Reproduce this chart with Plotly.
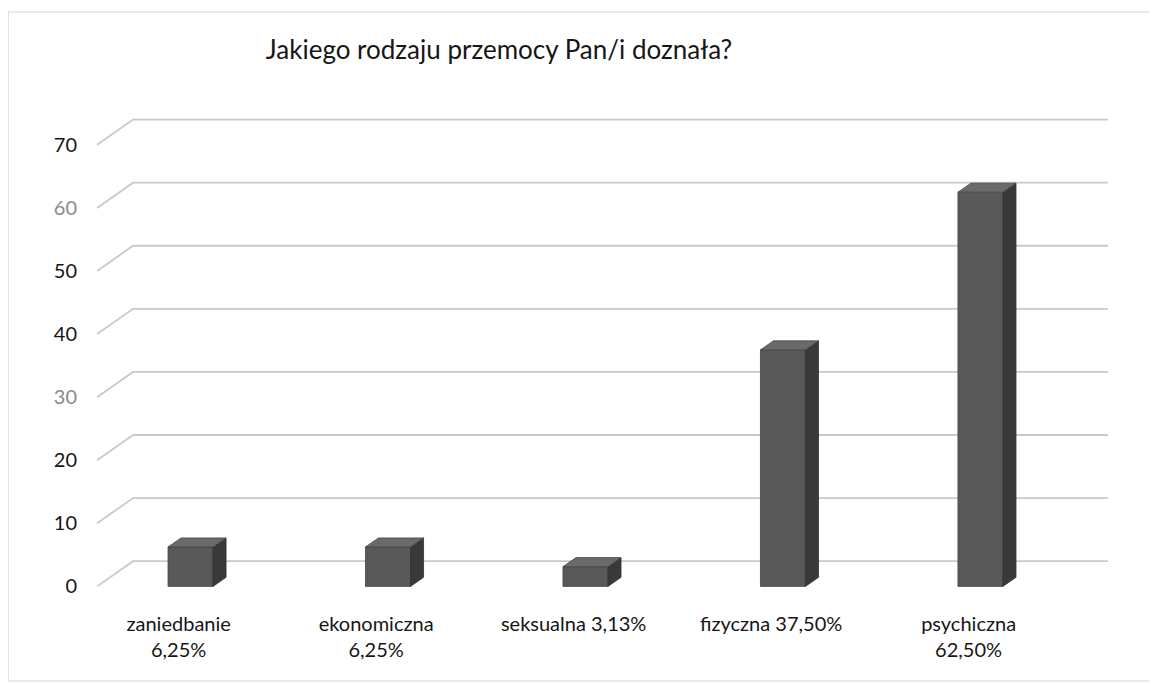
import plotly.graph_objects as go

# ---- data ----
categories = ["zaniedbanie<br>6,25%", "ekonomiczna<br>6,25%", "seksualna 3,13%",
              "fizyczna 37,50%", "psychiczna<br>62,50%"]
values = [6.25, 6.25, 3.13, 37.5, 62.5]
tick_vals = [0, 10, 20, 30, 40, 50, 60, 70]
faded_ticks = [30, 60]   # these labels appear lighter in the reference
title_text = "Jakiego rodzaju przemocy Pan/i doznała?"

# ---- style / geometry constants ----
FONT = "Lato, 'Open Sans', sans-serif"
BAR_W = 0.228          # front face width (category units)
BAR_SHIFT = 0.06       # perspective shift of bars vs labels
DEPTH_X = 0.066        # 3D depth in x (category units)
DEPTH_Y = 1.43         # 3D depth in y (value units)
WALL_DY = 4.0          # back wall offset (value units)
X_FRONT_LEFT = -0.413
X_BACK_LEFT = -0.231
X_RIGHT = 4.705
XR = [-0.449, 4.716]
YR = [-2, 76]
FRONT = "#595959"
SIDE = "#393939"
TOP = "#6a6a6a"
GRID = "#c9c9c9"
TXT = "#161616"
FADED = "#8a8a8a"

xpos = list(range(len(categories)))

fig = go.Figure()

# gridlines with side-wall diagonals (base axes, drawn beneath bars)
gx, gy = [], []
for v in tick_vals:
    gx += [X_FRONT_LEFT, X_BACK_LEFT, X_RIGHT, None]
    gy += [v, v + WALL_DY, v + WALL_DY, None]
fig.add_trace(go.Scatter(x=gx, y=gy, mode="lines",
                         line=dict(color=GRID, width=1.8),
                         hoverinfo="skip", showlegend=False))

# front faces (overlay axes, drawn above gridlines)
fig.add_trace(go.Bar(x=xpos, y=values, width=BAR_W,
                     offset=-BAR_W / 2 + BAR_SHIFT,
                     xaxis="x2", yaxis="y2",
                     marker=dict(color=FRONT, line=dict(color="#444444", width=0.8)),
                     showlegend=False))

# side and top faces computed from values
sx, sy, tx, ty = [], [], [], []
for i, v in zip(xpos, values):
    xl = i - BAR_W / 2 + BAR_SHIFT
    xr = i + BAR_W / 2 + BAR_SHIFT
    sx += [xr, xr + DEPTH_X, xr + DEPTH_X, xr, xr, None]
    sy += [0, DEPTH_Y, v + DEPTH_Y, v, 0, None]
    tx += [xl, xl + DEPTH_X, xr + DEPTH_X, xr, xl, None]
    ty += [v, v + DEPTH_Y, v + DEPTH_Y, v, v, None]
fig.add_trace(go.Scatter(x=sx, y=sy, mode="lines", fill="toself",
                         xaxis="x2", yaxis="y2",
                         fillcolor=SIDE, line=dict(color="#333333", width=0.8),
                         hoverinfo="skip", showlegend=False))
fig.add_trace(go.Scatter(x=tx, y=ty, mode="lines", fill="toself",
                         xaxis="x2", yaxis="y2",
                         fillcolor=TOP, line=dict(color="#444444", width=0.8),
                         hoverinfo="skip", showlegend=False))

ytext = [f'<span style="color:{FADED}">{t}</span>' if t in faded_ticks else str(t)
         for t in tick_vals]

# plot area: 82..1102 px wide, 99..591 px tall (page body adds an 8px offset)
fig.update_layout(
    width=1157, height=684,
    margin=dict(l=82, r=55, t=99, b=93),
    paper_bgcolor="white", plot_bgcolor="white",
    font=dict(family=FONT, color=TXT),
    title=dict(text=title_text, x=491 / 1157, xanchor="center",
               y=1 - 42 / 684, yanchor="middle",
               font=dict(family=FONT, size=26, color=TXT)),
    xaxis=dict(range=XR, tickmode="array", tickvals=xpos,
               ticktext=categories, showgrid=False, zeroline=False,
               showline=False, ticks="", ticklabelstandoff=11,
               tickfont=dict(size=20, color=TXT)),
    yaxis=dict(range=YR, tickmode="array", tickvals=tick_vals,
               ticktext=ytext, showgrid=False,
               zeroline=False, showline=False, ticks="", ticklabelstandoff=12,
               tickfont=dict(size=20, color=TXT)),
    xaxis2=dict(range=XR, overlaying="x", visible=False),
    yaxis2=dict(range=YR, overlaying="y", visible=False),
    shapes=[
        dict(type="line", xref="paper", yref="paper", x0=-82 / 1020, x1=-82 / 1020,
             y0=-82 / 492, y1=1 + 95 / 492, line=dict(color="#d8d8d8", width=1.5)),
        dict(type="line", xref="paper", yref="paper", x0=-82 / 1020, x1=1 + 55 / 1020,
             y0=1 + 95 / 492, y1=1 + 95 / 492, line=dict(color="#e2e2e2", width=1.5)),
        dict(type="line", xref="paper", yref="paper", x0=-82 / 1020, x1=1 + 55 / 1020,
             y0=-82 / 492, y1=-82 / 492, line=dict(color="#e2e2e2", width=1.5)),
    ],
)

fig.write_html("out.html")
